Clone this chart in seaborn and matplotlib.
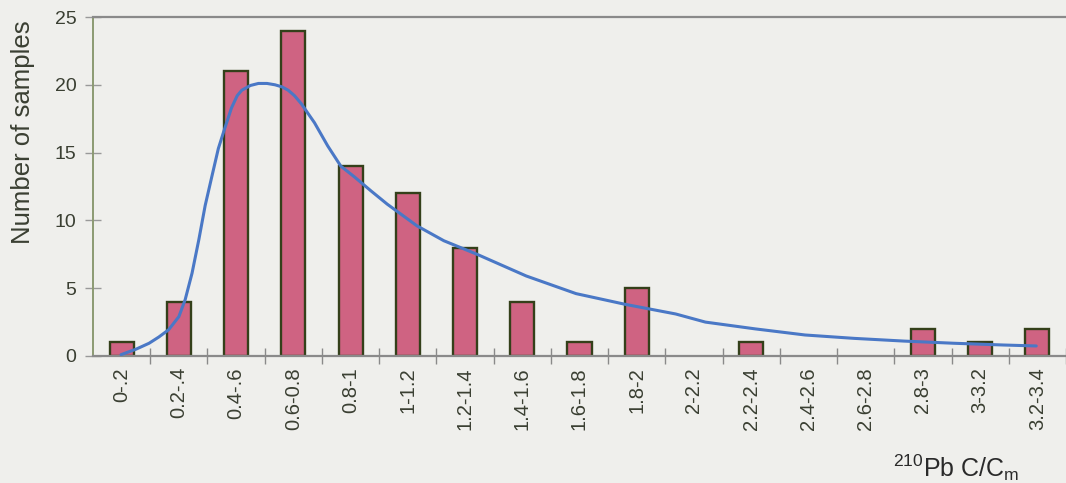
import numpy as np
import pandas as pd
import matplotlib
matplotlib.use("Agg")
import matplotlib.pyplot as plt
import seaborn as sns

# ---- data ----
categories = ["0-.2", "0.2-.4", "0.4-.6", "0.6-0.8", "0.8-1", "1-1.2", "1.2-1.4",
              "1.4-1.6", "1.6-1.8", "1.8-2", "2-2.2", "2.2-2.4", "2.4-2.6",
              "2.6-2.8", "2.8-3", "3-3.2", "3.2-3.4"]
counts = [1, 4, 21, 24, 14, 12, 8, 4, 1, 5, 0, 1, 0, 0, 2, 1, 2]

# fitted curve (x in category-index units)
curve_x = [-0.01, 0.25, 0.48, 0.65, 0.82, 1.0, 1.11, 1.23, 1.35, 1.46, 1.58, 1.69,
           1.78, 1.92, 2.02, 2.10, 2.25, 2.39, 2.54, 2.68, 2.80, 2.91, 3.02, 3.14,
           3.37, 3.60, 3.83, 4.07, 4.35, 4.64, 5.16, 5.63, 6.21, 7.07, 7.94, 8.81,
           9.68, 10.2, 11.07, 11.94, 12.8, 13.67, 14.54, 15.41, 15.98]
curve_y = [0.1, 0.5, 0.94, 1.4, 1.93, 2.9, 4.15, 6.1, 8.6, 11.1, 13.3, 15.3,
           16.5, 18.3, 19.2, 19.6, 19.95, 20.1, 20.1, 20.0, 19.85, 19.6, 19.2, 18.6,
           17.2, 15.5, 14.0, 13.2, 12.2, 11.2, 9.6, 8.5, 7.5, 5.9, 4.6, 3.8,
           3.1, 2.5, 2.0, 1.55, 1.3, 1.1, 0.94, 0.81, 0.74]
y_ticks = [0, 5, 10, 15, 20, 25]

bg = "#EFEFEC"
txt = "#3A3F32"
sns.set_theme(style="white")
plt.rcParams['font.family'] = ['Liberation Sans', 'DejaVu Sans']
plt.rcParams['mathtext.fontset'] = 'custom'
plt.rcParams['mathtext.rm'] = 'Liberation Sans'

W, H = 1066, 483
fig = plt.figure(figsize=(W / 100, H / 100), dpi=100, facecolor=bg)
ax = fig.add_axes([93 / W, 1 - 356 / H, 1 - 93 / W, (356 - 17) / H])
ax.set_facecolor(bg)

df = pd.DataFrame({"idx": np.arange(len(categories)), "count": counts})
nz = df[df["count"] > 0]
ax.bar(nz["idx"], nz["count"], width=0.42, color="#CF6382",
       edgecolor="#34401A", linewidth=1.7, zorder=2)

cdf = pd.DataFrame({"x": curve_x, "y": curve_y})
sns.lineplot(data=cdf, x="x", y="y", ax=ax, color="#4A78C6", linewidth=2.2,
             zorder=3, sort=False)

ax.set_xlim(-0.5, 16.38)
ax.set_ylim(0, 25)
ax.set_yticks(y_ticks)
ax.set_yticklabels([str(v) for v in y_ticks], fontsize=14, color=txt)
ax.set_xticks(np.arange(len(categories)))
ax.set_xticklabels(categories, rotation=90, fontsize=14.5, color=txt)
ax.set_xticks(np.arange(len(categories)) + 0.5, minor=True)
ax.tick_params(axis="x", which="major", bottom=True, length=0, pad=8)
ax.tick_params(axis="x", which="minor", bottom=True, direction="inout", length=12,
               width=1, color="#8A8A8A")
ax.tick_params(axis="y", left=True, direction="inout", length=12, width=1,
               color="#999999", pad=6)
ax.set_xlabel("")
ax.set_ylabel("")

ax.spines["left"].set_color("#8C9A72")
ax.spines["left"].set_linewidth(1.4)
ax.spines["bottom"].set_color("#8A8A8A")
ax.spines["bottom"].set_linewidth(1.6)
ax.spines["top"].set_color("#8A8A8A")
ax.spines["top"].set_linewidth(1.6)
ax.spines["right"].set_visible(False)

fig.text(23 / W, 1 - 132 / H, "Number of samples", rotation=90, fontsize=18.5,
         ha="center", va="center", color=txt)
fig.text(956 / W, 1 - 477 / H, r"$^{\mathregular{210}}$Pb C/C$_{\mathregular{m}}$",
         fontsize=18, ha="center", va="baseline", color="#2A2A2A")

fig.savefig("out.png", dpi=100, facecolor=bg)
